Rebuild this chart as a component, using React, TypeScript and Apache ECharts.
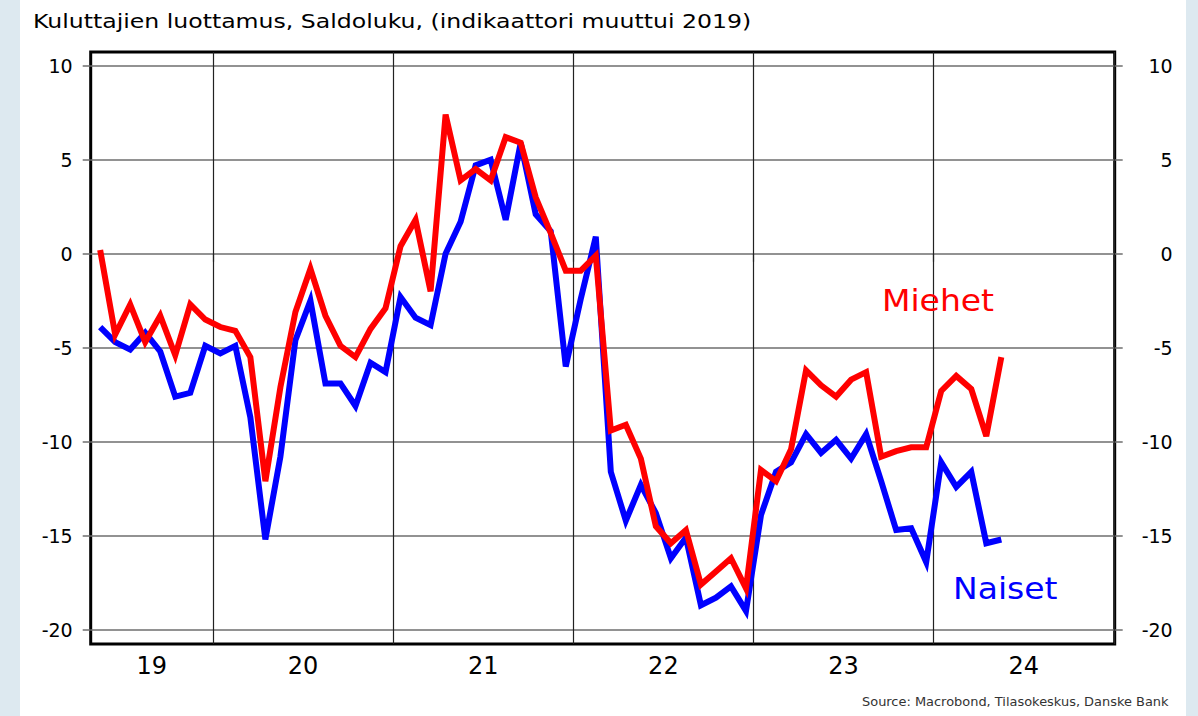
import React, { useEffect, useRef } from "react";
import * as echarts from "echarts";

// Months counted from January 2019; first observation is May 2019
const firstMonth = 4;

const miehet = [
  0.2, -4.3, -2.7, -4.7, -3.3, -5.4, -2.7, -3.5, -3.9, -4.1, -5.5, -12.1, -7.1,
  -3.1, -0.8, -3.3, -4.9, -5.5, -4.0, -2.9, 0.4, 1.8, -2.0, 7.4, 3.9, 4.5, 3.9,
  6.2, 5.9, 3.0, 1.1, -0.9, -0.9, -0.1, -9.4, -9.1, -10.9, -14.5, -15.4, -14.7,
  -17.6, -16.9, -16.2, -17.8, -11.5, -12.1, -10.4, -6.2, -7.0, -7.6, -6.7, -6.3,
  -10.8, -10.5, -10.3, -10.3, -7.3, -6.5, -7.2, -9.7, -5.5,
];

const naiset = [
  -3.9, -4.7, -5.1, -4.2, -5.2, -7.6, -7.4, -4.9, -5.3, -4.9, -8.7, -15.2, -10.8,
  -4.6, -2.5, -6.9, -6.9, -8.1, -5.8, -6.3, -2.3, -3.4, -3.8, 0.0, 1.7, 4.7, 5.0,
  1.8, 5.9, 2.1, 1.2, -6.0, -2.4, 0.9, -11.6, -14.2, -12.3, -13.8, -16.2, -15.1,
  -18.7, -18.3, -17.7, -19.0, -13.9, -11.6, -11.1, -9.6, -10.6, -9.9, -10.9, -9.6,
  -12.1, -14.7, -14.6, -16.4, -11.1, -12.4, -11.6, -15.4, -15.2,
];

const yTicks = [-20, -15, -10, -5, 0, 5, 10];
const yearBoundaries = [12, 24, 36, 48, 60, 72];
const yearLabels = ["19", "20", "21", "22", "23", "24"];

const xMin = 3.87;
const xMax = 72.05;
const yMin = -20.76;
const yMax = 10.73;

const FONT = "DejaVu Sans";

export default function App() {
  const ref = useRef<HTMLDivElement>(null);

  useEffect(() => {
    if (!ref.current) return;
    const chart = echarts.init(ref.current, null, { renderer: "svg" });

    const toPoints = (arr: number[]) =>
      arr.map((v, i) => [firstMonth + i + 0.5, v]);

    const labelPos = yearLabels.map((_, k) =>
      k === 0 ? (xMin + yearBoundaries[0]) / 2 : yearBoundaries[k - 1] + 6
    );

    const yAxisCommon = {
      type: "value",
      min: yMin,
      max: yMax,
      axisLine: { show: false },
      axisTick: {
        show: true,
        inside: false,
        length: 8,
        customValues: yTicks,
        lineStyle: { color: "#6e6e6e", width: 1.5 },
      },
    };

    chart.setOption({
      animation: false,
      backgroundColor: "#ffffff",
      grid: {
        left: 90.7,
        top: 52,
        width: 1024,
        height: 592,
        show: true,
        borderColor: "#000",
        borderWidth: 3,
        backgroundColor: "transparent",
        containLabel: false,
      },
      xAxis: {
        type: "value",
        min: xMin,
        max: xMax,
        axisLine: { show: false },
        axisTick: {
          show: true,
          inside: false,
          length: 8,
          customValues: yearBoundaries,
          lineStyle: { color: "#222", width: 1.2 },
        },
        splitLine: {
          show: true,
          lineStyle: { color: "#222", width: 1.2 },
        },
        axisLabel: {
          customValues: labelPos,
          margin: 10,
          fontFamily: FONT,
          fontSize: 24,
          color: "#000",
          formatter: (v: number) => {
            const idx = labelPos.findIndex((p) => Math.abs(p - v) < 0.01);
            return idx >= 0 ? yearLabels[idx] : "";
          },
        },
      },
      yAxis: [
        {
          ...yAxisCommon,
          position: "left",
          splitLine: {
            show: true,
            lineStyle: { color: "#6e6e6e", width: 1.5 },
          },
          axisLabel: {
            customValues: yTicks,
            margin: 18,
            fontFamily: FONT,
            fontSize: 19,
            color: "#000",
          },
        },
        {
          ...yAxisCommon,
          position: "right",
          splitLine: { show: false },
          axisLabel: {
            customValues: yTicks,
            margin: 58,
            align: "right",
            fontFamily: FONT,
            fontSize: 19,
            color: "#000",
          },
        },
      ],
      series: [
        {
          name: "Naiset",
          type: "line",
          data: toPoints(naiset),
          showSymbol: false,
          symbol: "none",
          lineStyle: { color: "#0000ff", width: 6, join: "miter", cap: "butt" },
          z: 3,
        },
        {
          name: "Miehet",
          type: "line",
          data: toPoints(miehet),
          showSymbol: false,
          symbol: "none",
          lineStyle: { color: "#ff0000", width: 6, join: "miter", cap: "butt" },
          z: 4,
        },
      ],
      graphic: [
        {
          type: "rect",
          left: 0,
          top: 0,
          shape: { width: 20, height: 716 },
          style: { fill: "#dde9f0" },
          silent: true,
        },
        {
          type: "rect",
          left: 1186,
          top: 0,
          shape: { width: 12, height: 716 },
          style: { fill: "#dde9f0" },
          silent: true,
        },
        {
          type: "text",
          x: 33,
          y: 11,
          scaleX: 1.18,
          style: {
            text: "Kuluttajien luottamus, Saldoluku, (indikaattori muuttui 2019)",
            fontFamily: FONT,
            fontSize: 20,
            fill: "#000",
            verticalAlign: "top",
          },
          z: 10,
        },
        {
          type: "text",
          x: 882,
          y: 286,
          scaleX: 1.1,
          style: {
            text: "Miehet",
            fontFamily: FONT,
            fontSize: 30,
            fill: "#ff0000",
            verticalAlign: "top",
          },
          z: 10,
        },
        {
          type: "text",
          x: 953,
          y: 574,
          scaleX: 1.1,
          style: {
            text: "Naiset",
            fontFamily: FONT,
            fontSize: 30,
            fill: "#0000ff",
            verticalAlign: "top",
          },
          z: 10,
        },
        {
          type: "text",
          x: 862,
          y: 696,
          scaleX: 1.08,
          style: {
            text: "Source: Macrobond, Tilasokeskus, Danske Bank",
            fontFamily: FONT,
            fontSize: 12,
            fill: "#333",
            verticalAlign: "top",
          },
          z: 10,
        },
      ],
    });

    return () => {
      chart.dispose();
    };
  }, []);

  return (
    <div
      ref={ref}
      style={{ position: "fixed", left: 0, top: 0, width: 1198, height: 716 }}
    />
  );
}
